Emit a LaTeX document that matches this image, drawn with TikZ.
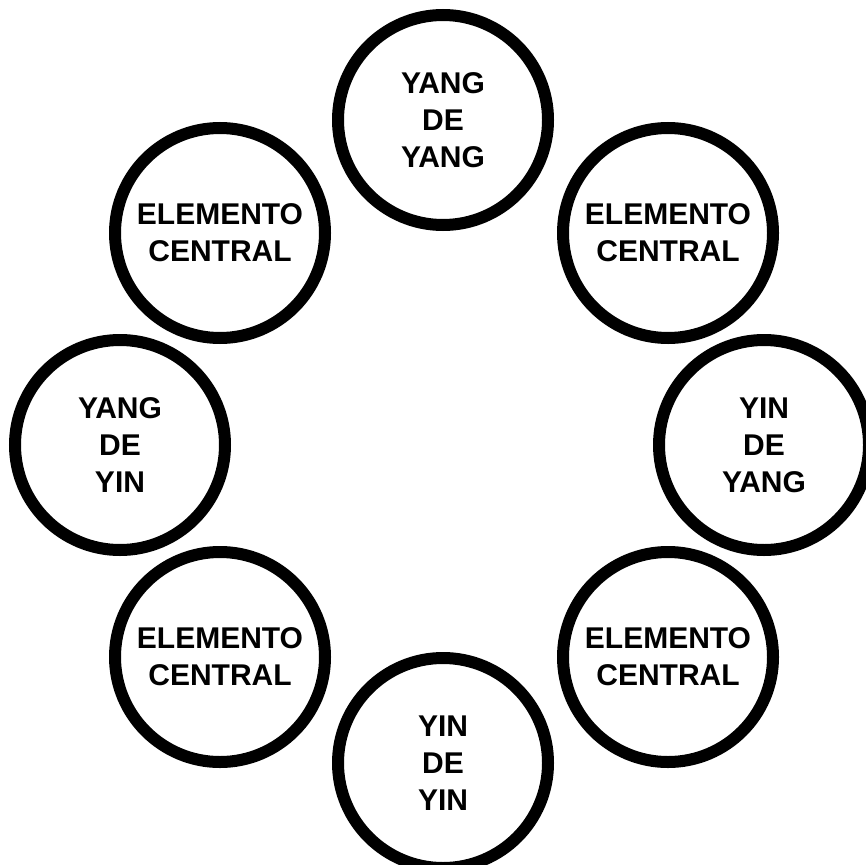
\documentclass[tikz,border=0pt]{standalone}
\usepackage{fontspec}
\setmainfont{Liberation Sans}
\begin{document}
\begin{tikzpicture}[x=1pt,y=-1pt,
  ring/.style={draw=black, line width=12pt, circle, fill=white, minimum size=210pt, inner sep=0pt,
    align=center, font=\fontsize{30}{37}\selectfont\bfseries}]
\useasboundingbox (0,0) rectangle (866,864);
\node[ring] (top) at (443,120) {YANG\\DE\\YANG};
\node[ring] (ul) at (220,233) {ELEMENTO\\CENTRAL};
\node[ring] (ur) at (668,233) {ELEMENTO\\CENTRAL};
\node[ring] (left) at (120,445) {YANG\\DE\\YIN};
\node[ring] (right) at (764,445) {YIN\\DE\\YANG};
\node[ring] (ll) at (220,657) {ELEMENTO\\CENTRAL};
\node[ring] (lr) at (668,657) {ELEMENTO\\CENTRAL};
\node[ring] (bottom) at (443,763) {YIN\\DE\\YIN};
\end{tikzpicture}
\end{document}
